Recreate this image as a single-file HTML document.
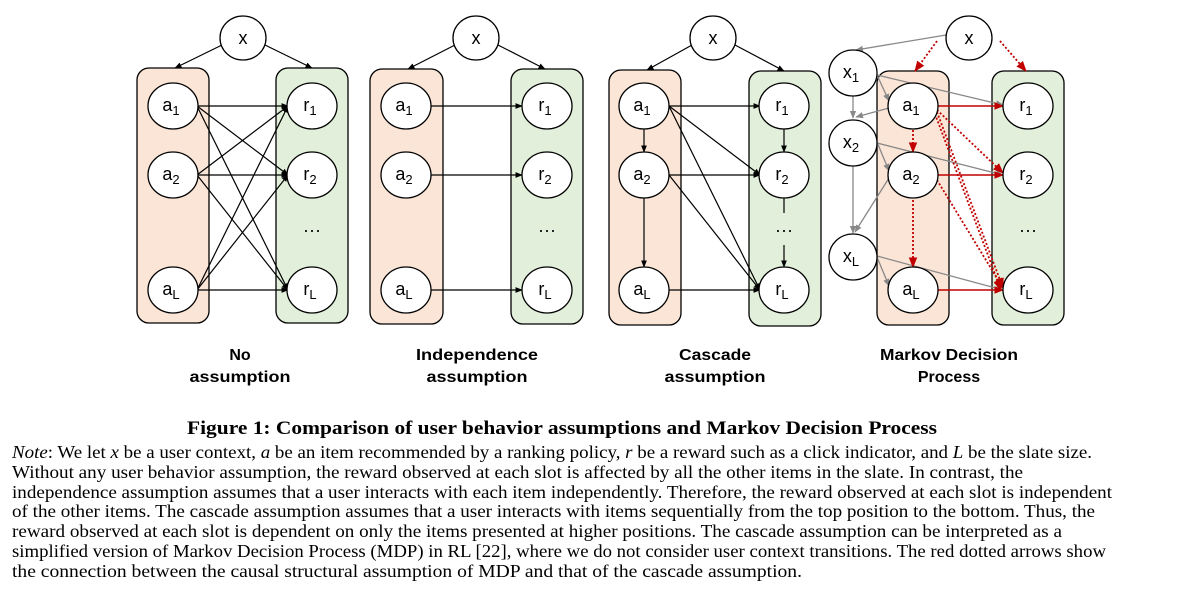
<!DOCTYPE html>
<html><head><meta charset="utf-8"><style>
html,body{margin:0;padding:0;background:#fff;}
svg{display:block;}
.n{font-family:"Liberation Sans",sans-serif;font-size:18px;}
.l{font-family:"Liberation Sans",sans-serif;font-size:16px;font-weight:bold;}
.t{font-family:"Liberation Serif",serif;font-size:17.5px;}
</style></head><body>
<svg width="1198" height="590" viewBox="0 0 1198 590" xmlns="http://www.w3.org/2000/svg">
<defs>
<marker id="ak" viewBox="0 0 10 10" refX="9" refY="5" markerWidth="6" markerHeight="6" orient="auto"><path d="M0,1 L10,5 L0,9z" fill="#000"/></marker>
<marker id="ag" viewBox="0 0 10 10" refX="9" refY="5" markerWidth="6" markerHeight="6" orient="auto"><path d="M0,1 L10,5 L0,9z" fill="#888"/></marker>
<marker id="ar" viewBox="0 0 10 10" refX="9" refY="5" markerWidth="6" markerHeight="6" orient="auto"><path d="M0,1 L10,5 L0,9z" fill="#c00000"/></marker>
</defs>

<g stroke="#000" stroke-width="1.3">
<rect x="137" y="68" width="72" height="255" rx="12" fill="#fbe5d6"/>
<rect x="276" y="68" width="72" height="255" rx="12" fill="#e2efda"/>
<rect x="370" y="69" width="73" height="255" rx="12" fill="#fbe5d6"/>
<rect x="511" y="69" width="72" height="255" rx="12" fill="#e2efda"/>
<rect x="609" y="70" width="72" height="255" rx="12" fill="#fbe5d6"/>
<rect x="749" y="71" width="72" height="255" rx="12" fill="#e2efda"/>
<rect x="877" y="71" width="72" height="254" rx="12" fill="#fbe5d6"/>
<rect x="992" y="71" width="72" height="254" rx="12" fill="#e2efda"/>
</g>

<g stroke="#000" stroke-width="1.2" fill="none" marker-end="url(#ak)">
<line x1="222" y1="45" x2="175" y2="68"/><line x1="265" y1="45" x2="312" y2="68"/>
<line x1="197" y1="106" x2="288" y2="106"/><line x1="197" y1="106" x2="288" y2="175"/><line x1="197" y1="106" x2="288" y2="290"/>
<line x1="197" y1="175" x2="288" y2="106"/><line x1="197" y1="175" x2="288" y2="175"/><line x1="197" y1="175" x2="288" y2="290"/>
<line x1="197" y1="290" x2="288" y2="106"/><line x1="197" y1="290" x2="288" y2="175"/><line x1="197" y1="290" x2="288" y2="290"/>
<line x1="455" y1="45" x2="408" y2="69"/><line x1="498" y1="45" x2="545" y2="69"/>
<line x1="431" y1="106" x2="522" y2="106"/><line x1="431" y1="175" x2="522" y2="175"/><line x1="431" y1="290" x2="522" y2="290"/>
<line x1="692" y1="45" x2="647" y2="70"/><line x1="735" y1="45" x2="784" y2="71"/>
<line x1="669" y1="106" x2="760" y2="106"/><line x1="669" y1="106" x2="760" y2="175"/><line x1="669" y1="106" x2="760" y2="290"/>
<line x1="669" y1="175" x2="760" y2="175"/><line x1="669" y1="175" x2="760" y2="290"/>
<line x1="669" y1="290" x2="760" y2="290"/>
<line x1="644" y1="129" x2="644" y2="152"/><line x1="644" y1="198" x2="644" y2="267"/>
<line x1="784" y1="129" x2="784" y2="152"/><line x1="784" y1="245" x2="784" y2="267"/>
</g>
<line x1="784" y1="198" x2="784" y2="213" stroke="#000" stroke-width="1.2"/>

<g stroke="#888" stroke-width="1.3" fill="none" marker-end="url(#ag)">
<line x1="946" y1="35" x2="856" y2="50"/>
<line x1="853" y1="96" x2="853" y2="118"/><line x1="853" y1="166" x2="853" y2="233"/>
<line x1="877" y1="75" x2="889" y2="101"/><line x1="889" y1="108" x2="856" y2="117"/>
<line x1="877" y1="142" x2="889" y2="171"/><line x1="889" y1="178" x2="855" y2="232"/>
<line x1="877" y1="257" x2="889" y2="286"/>
<line x1="877" y1="75" x2="1003" y2="105"/><line x1="877" y1="143" x2="1003" y2="175"/><line x1="877" y1="256" x2="1003" y2="290"/>
</g>
<g stroke="#c00000" stroke-width="1.6" fill="none" marker-end="url(#ar)">
<line x1="937" y1="106" x2="1003" y2="106"/><line x1="937" y1="175" x2="1003" y2="175"/><line x1="937" y1="290" x2="1003" y2="290"/>
</g>
<g stroke="#c00000" stroke-width="1.8" fill="none" stroke-dasharray="2,2" marker-end="url(#ar)">
<line x1="937" y1="41" x2="915" y2="71"/><line x1="1000" y1="41" x2="1026" y2="71"/>
<line x1="913" y1="130" x2="913" y2="152"/><line x1="913" y1="200" x2="913" y2="267"/>
<line x1="937" y1="110" x2="1003" y2="173"/><line x1="937" y1="112" x2="1003" y2="288"/><line x1="935" y1="114" x2="1001" y2="290"/>
<line x1="937" y1="180" x2="1003" y2="288"/>
</g>

<g stroke="#000" stroke-width="1.3" fill="#fff">
<ellipse cx="243" cy="38" rx="23" ry="22"/><ellipse cx="476" cy="38" rx="23" ry="22"/><ellipse cx="713" cy="38" rx="23" ry="22"/><ellipse cx="969" cy="38" rx="23" ry="22"/>
<ellipse cx="173" cy="106" rx="25" ry="23"/><ellipse cx="173" cy="175" rx="25" ry="23"/><ellipse cx="173" cy="290" rx="25" ry="23"/>
<ellipse cx="312" cy="106" rx="25" ry="23"/><ellipse cx="312" cy="175" rx="25" ry="23"/><ellipse cx="312" cy="290" rx="25" ry="23"/>
<ellipse cx="406" cy="106" rx="25" ry="23"/><ellipse cx="406" cy="175" rx="25" ry="23"/><ellipse cx="406" cy="290" rx="25" ry="23"/>
<ellipse cx="547" cy="106" rx="25" ry="23"/><ellipse cx="547" cy="175" rx="25" ry="23"/><ellipse cx="547" cy="290" rx="25" ry="23"/>
<ellipse cx="644" cy="106" rx="25" ry="23"/><ellipse cx="644" cy="175" rx="25" ry="23"/><ellipse cx="644" cy="290" rx="25" ry="23"/>
<ellipse cx="784" cy="106" rx="25" ry="23"/><ellipse cx="784" cy="175" rx="25" ry="23"/><ellipse cx="784" cy="290" rx="25" ry="23"/>
<ellipse cx="913" cy="106" rx="25" ry="23"/><ellipse cx="913" cy="175" rx="25" ry="23"/><ellipse cx="913" cy="290" rx="25" ry="23"/>
<ellipse cx="1028" cy="106" rx="25" ry="23"/><ellipse cx="1028" cy="175" rx="25" ry="23"/><ellipse cx="1028" cy="290" rx="25" ry="23"/>
<ellipse cx="853" cy="73" rx="24" ry="23"/><ellipse cx="853" cy="143" rx="24" ry="23"/><ellipse cx="853" cy="257" rx="24" ry="23"/>
</g>

<g class="n" text-anchor="middle" fill="#000">
<text x="243" y="44">x</text><text x="476" y="44">x</text><text x="713" y="44">x</text><text x="969" y="44">x</text>
<text x="171" y="111">a<tspan font-size="13" dy="4">1</tspan></text>
<text x="171" y="180">a<tspan font-size="13" dy="4">2</tspan></text>
<text x="171" y="295">a<tspan font-size="13" dy="4">L</tspan></text>
<text x="310" y="111">r<tspan font-size="13" dy="4">1</tspan></text>
<text x="310" y="180">r<tspan font-size="13" dy="4">2</tspan></text>
<text x="310" y="295">r<tspan font-size="13" dy="4">L</tspan></text>
<text x="312" y="236">···</text>
<text x="404" y="111">a<tspan font-size="13" dy="4">1</tspan></text><text x="404" y="180">a<tspan font-size="13" dy="4">2</tspan></text><text x="404" y="295">a<tspan font-size="13" dy="4">L</tspan></text>
<text x="545" y="111">r<tspan font-size="13" dy="4">1</tspan></text><text x="545" y="180">r<tspan font-size="13" dy="4">2</tspan></text><text x="545" y="295">r<tspan font-size="13" dy="4">L</tspan></text><text x="547" y="236">···</text>
<text x="642" y="111">a<tspan font-size="13" dy="4">1</tspan></text><text x="642" y="180">a<tspan font-size="13" dy="4">2</tspan></text><text x="642" y="295">a<tspan font-size="13" dy="4">L</tspan></text>
<text x="782" y="111">r<tspan font-size="13" dy="4">1</tspan></text><text x="782" y="180">r<tspan font-size="13" dy="4">2</tspan></text><text x="782" y="295">r<tspan font-size="13" dy="4">L</tspan></text><text x="784" y="236">···</text>
<text x="911" y="111">a<tspan font-size="13" dy="4">1</tspan></text><text x="911" y="180">a<tspan font-size="13" dy="4">2</tspan></text><text x="911" y="295">a<tspan font-size="13" dy="4">L</tspan></text>
<text x="1026" y="111">r<tspan font-size="13" dy="4">1</tspan></text><text x="1026" y="180">r<tspan font-size="13" dy="4">2</tspan></text><text x="1026" y="295">r<tspan font-size="13" dy="4">L</tspan></text><text x="1028" y="236">···</text>
<text x="851" y="78">x<tspan font-size="13" dy="4">1</tspan></text><text x="851" y="148">x<tspan font-size="13" dy="4">2</tspan></text><text x="851" y="262">x<tspan font-size="13" dy="4">L</tspan></text>
</g>

<g class="l" text-anchor="middle">
<text x="240" y="360">No</text><text x="240" y="382" textLength="101" lengthAdjust="spacingAndGlyphs">assumption</text>
<text x="477" y="360" textLength="122" lengthAdjust="spacingAndGlyphs">Independence</text><text x="477" y="382" textLength="101" lengthAdjust="spacingAndGlyphs">assumption</text>
<text x="715" y="360" textLength="72" lengthAdjust="spacingAndGlyphs">Cascade</text><text x="715" y="382" textLength="101" lengthAdjust="spacingAndGlyphs">assumption</text>
<text x="949" y="360" textLength="138" lengthAdjust="spacingAndGlyphs">Markov Decision</text><text x="949" y="382">Process</text>
</g>

<text x="187" y="434" font-family="Liberation Serif, serif" font-size="18.5" font-weight="bold" textLength="750" lengthAdjust="spacingAndGlyphs">Figure 1: Comparison of user behavior assumptions and Markov Decision Process</text>
<g class="t">
<text x="12" y="458" textLength="1080" lengthAdjust="spacingAndGlyphs"><tspan font-style="italic">Note</tspan>: We let <tspan font-style="italic">x</tspan> be a user context, <tspan font-style="italic">a</tspan> be an item recommended by a ranking policy, <tspan font-style="italic">r</tspan> be a reward such as a click indicator, and <tspan font-style="italic">L</tspan> be the slate size.</text>
<text x="12" y="478" textLength="1011" lengthAdjust="spacingAndGlyphs">Without any user behavior assumption, the reward observed at each slot is affected by all the other items in the slate. In contrast, the</text>
<text x="12" y="498" textLength="1100" lengthAdjust="spacingAndGlyphs">independence assumption assumes that a user interacts with each item independently. Therefore, the reward observed at each slot is independent</text>
<text x="12" y="517" textLength="1083" lengthAdjust="spacingAndGlyphs">of the other items. The cascade assumption assumes that a user interacts with items sequentially from the top position to the bottom. Thus, the</text>
<text x="12" y="537" textLength="1050" lengthAdjust="spacingAndGlyphs">reward observed at each slot is dependent on only the items presented at higher positions. The cascade assumption can be interpreted as a</text>
<text x="12" y="557" textLength="1094" lengthAdjust="spacingAndGlyphs">simplified version of Markov Decision Process (MDP) in RL [22], where we do not consider user context transitions. The red dotted arrows show</text>
<text x="12" y="577" textLength="790" lengthAdjust="spacingAndGlyphs">the connection between the causal structural assumption of MDP and that of the cascade assumption.</text>
</g>
</svg>
</body></html>
